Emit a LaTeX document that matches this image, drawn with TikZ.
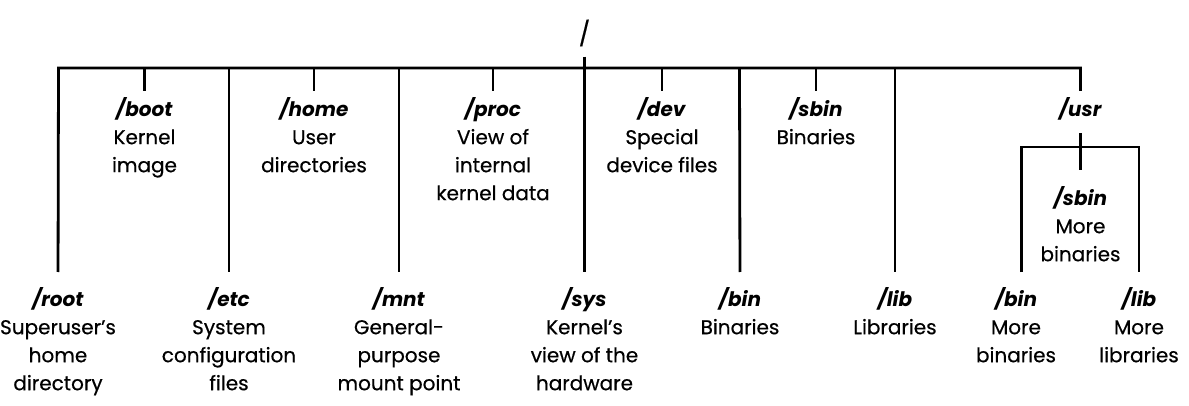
\documentclass[tikz,border=0pt]{standalone}
\usepackage{fontspec}
\setmainfont{Poppins}[UprightFeatures={FakeBold=0.5}]
\begin{document}
\begin{tikzpicture}[x=1pt,y=-1pt,
  tree/.style={line width=2.8pt},
  dirlabel/.style={anchor=north,inner sep=0pt,align=center,
    font=\fontsize{20}{28}\selectfont},
  rootlabel/.style={inner sep=0pt,font=\fontsize{24}{28}\selectfont}]
\useasboundingbox (0,0) rectangle (1189,406);

% root of the tree
\node[rootlabel] (root) at (584.5,33) {/};

% directories hanging from the upper row
\node[dirlabel] (boot) at (144.5,97) {\textbf{\textit{/boot}}\\Kernel\\image};
\node[dirlabel] (home) at (314,97) {\textbf{\textit{/home}}\\User\\directories};
\node[dirlabel] (proc) at (493,97) {\textbf{\textit{/proc}}\\View of\\internal\\kernel data};
\node[dirlabel] (dev) at (662,97) {\textbf{\textit{/dev}}\\Special\\device files};
\node[dirlabel] (sbin) at (816,97) {\textbf{\textit{/sbin}}\\Binaries};
\node[dirlabel] (usr) at (1080.5,97) {\textbf{\textit{/usr}}};

% directories hanging from the lower row
\node[dirlabel] (rootdir) at (58,287) {\textbf{\textit{/root}}\\Superuser’s\\home\\directory};
\node[dirlabel] (etc) at (229,287) {\textbf{\textit{/etc}}\\System\\configuration\\files};
\node[dirlabel] (mnt) at (399,287) {\textbf{\textit{/mnt}}\\General-\\purpose\\mount point};
\node[dirlabel] (sys) at (584.5,287) {\textbf{\textit{/sys}}\\Kernel’s\\view of the\\hardware};
\node[dirlabel] (bin) at (740,287) {\textbf{\textit{/bin}}\\Binaries};
\node[dirlabel] (lib) at (895,287) {\textbf{\textit{/lib}}\\Libraries};

% contents of /usr
\node[dirlabel] (usbin) at (1080.5,186) {\textbf{\textit{/sbin}}\\More\\binaries};
\node[dirlabel] (ubin) at (1016,287) {\textbf{\textit{/bin}}\\More\\binaries};
\node[dirlabel] (ulib) at (1139,287) {\textbf{\textit{/lib}}\\More\\libraries};

% junction points on the main bar
\coordinate (bL) at (58.5,68);
\coordinate (bR) at (1080.5,68);
\coordinate (jboot) at (144.5,68);
\coordinate (jetc) at (229,68);
\coordinate (jhome) at (314,68);
\coordinate (jmnt) at (399,68);
\coordinate (jproc) at (493,68);
\coordinate (jdev) at (662,68);
\coordinate (jbin) at (739.5,68);
\coordinate (jsbin) at (816,68);
\coordinate (jlib) at (895,68);
% junction points on the /usr bar
\coordinate (uL) at (1021.5,147);
\coordinate (uR) at (1139,147);
\coordinate (ubinx) at (1021.5,272);

% main bar with its two end branches
\draw[tree,line join=miter,shorten <=15pt,shorten >=6pt]
  (rootdir.north) -- (bL) -- (bR) -- (usr.north);
% trunk from the root down to /sys
\draw[tree,shorten <=10pt,shorten >=15pt] (root.south) -- (sys.north);

% short branches
\foreach \j/\n in {jboot/boot,jhome/home,jproc/proc,jdev/dev,jsbin/sbin}
  \draw[tree,shorten >=6pt] (\j) -- (\n.north);
% long branches
\foreach \j/\n in {jetc/etc,jmnt/mnt,jbin/bin,jlib/lib}
  \draw[tree,shorten >=15pt] (\j) -- (\n.north);

% /usr subtree
\draw[tree,shorten <=13pt,shorten >=16pt] (usr.south) -- (usbin.north);
\draw[tree,line join=miter] (ubinx) -- (uL) -- (uR) -- (uR |- ubinx);
\end{tikzpicture}
\end{document}
